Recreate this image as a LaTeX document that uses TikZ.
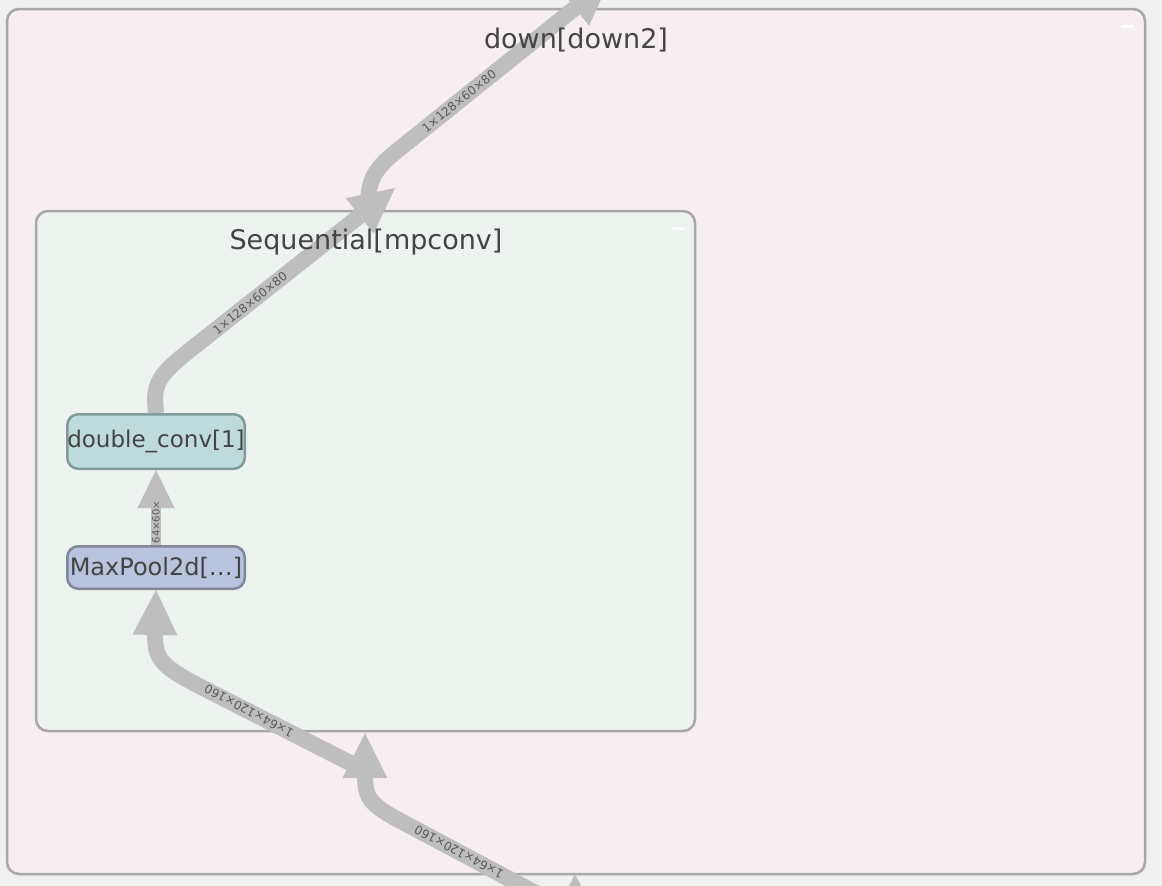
\documentclass[tikz,border=0pt]{standalone}
\usepackage{fontspec}
\setmainfont{DejaVu Sans}
\usetikzlibrary{arrows.meta}
\definecolor{canvas}{HTML}{F0F0F0}
\definecolor{outerfill}{HTML}{F7EEF2}
\definecolor{innerfill}{HTML}{EDF4F0}
\definecolor{clusterline}{HTML}{A9A7A8}
\definecolor{dcfill}{HTML}{BDDBDA}
\definecolor{dcline}{HTML}{7F9A99}
\definecolor{mpfill}{HTML}{BAC3DD}
\definecolor{mpline}{HTML}{7F8799}
\definecolor{edgegray}{HTML}{BEBEBE}
\definecolor{txt}{HTML}{444444}
\definecolor{lbltxt}{HTML}{5A5A5A}

\begin{document}
\begin{tikzpicture}[x=1pt,y=-1pt,
  cluster/.style={draw=clusterline,line width=2.5pt,rounded corners=12pt},
  layer/.style={draw,line width=2.5pt,rounded corners=11pt,minimum width=177.5pt,text=txt,font=\fontsize{23}{26}\selectfont,inner sep=0pt},
  edge/.style={draw=edgegray,line width=16pt,-{Triangle[length=45pt,width=45pt,line width=0pt]}},
  thinedge/.style={draw=edgegray,line width=10pt,-{Triangle[length=38pt,width=37pt,line width=0pt]}},
  lbl/.style={text=lbltxt,font=\fontsize{12}{14}\selectfont,inner sep=0pt},
  title/.style={text=txt,font=\fontsize{27}{31}\selectfont,inner sep=0pt}]
\useasboundingbox (0,0) rectangle (1162,886);
\clip (0,0) rectangle (1162,886);
\fill[canvas] (0,0) rectangle (1162,886);

\draw[cluster,fill=outerfill] (7,9) rectangle (1145,874);
\draw[white,line width=3pt] (1121,26) -- (1134,26);
\draw[cluster,fill=innerfill] (36,211) rectangle (695,731);
\draw[white,line width=3pt] (672,228) -- (684,228);

\coordinate (outbot) at (575,874);
\coordinate (inbot) at (365,733);
\coordinate (intop) at (395,188);
\coordinate (outtop) at (610,-20);

\node[layer,fill=dcfill,draw=dcline,minimum height=54.5pt] (dc) at (156,441.5) {double\_conv[1]};
\node[layer,fill=mpfill,draw=mpline,minimum height=42.5pt,font=\fontsize{24}{27}\selectfont] (mp) at (156,567.5) {MaxPool2d[…]};

\draw[edge] (575,940) -- (outbot);
\draw[edge] (575,914) -- (410,826) .. controls (370,805) and (365,800) .. (365,775) -- (inbot);
\draw[edge] (362,769) -- (205,689) .. controls (162,667) and (155,660) .. (155,635) -- (mp.south);
\draw[thinedge] (mp.north) -- (dc.south);
\draw[edge] (dc.north) -- (155,400) .. controls (155,380) and (165,370) .. (190,350) -- (intop);
\draw[edge] (368,205) .. controls (368,180) and (375,168) .. (398,150) -- (outtop);

\node[title] (down) at (576,40) {down[down2]};
\node[title] (seq) at (366,242) {Sequential[mpconv]};

\node[lbl,rotate=152] (lba) at (459,852) {1×64×120×160};
\node[lbl,rotate=152] (lbb) at (249,711) {1×64×120×160};
\node[lbl,rotate=90,font=\fontsize{10}{12}\selectfont] (lbc) at (156,522) {64×60×};
\node[lbl,rotate=39] (lbd) at (250,303) {1×128×60×80};
\node[lbl,rotate=39] (lbe) at (459,101) {1×128×60×80};
\end{tikzpicture}
\end{document}
